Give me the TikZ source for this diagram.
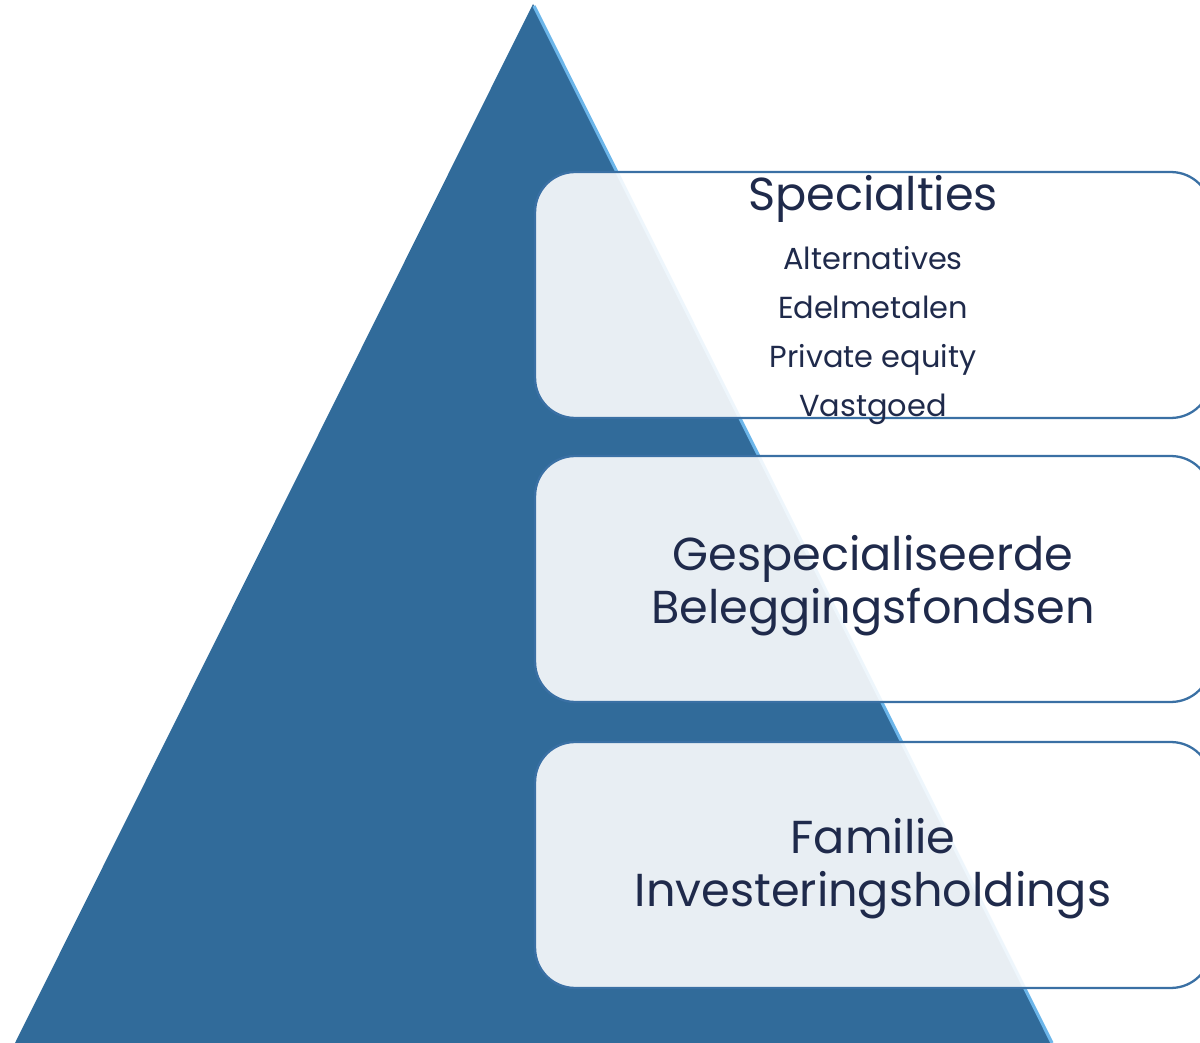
\documentclass[tikz,border=0pt]{standalone}
\usepackage{fontspec}
\setmainfont{Poppins}
\usetikzlibrary{positioning, calc}
\definecolor{pyrblue}{HTML}{316B9A}
\definecolor{pyredge}{HTML}{6CB6EA}
\definecolor{boxline}{HTML}{3A70A4}
\definecolor{labelink}{HTML}{1F2A4B}

\begin{document}
\begin{tikzpicture}[
    x=0.02cm, y=-0.02cm,
    tier/.style={draw=boxline, line width=1.3pt, rounded corners=0.8cm,
                 fill=white, fill opacity=0.89, draw opacity=1,
                 minimum width=13.52cm, minimum height=4.92cm, inner sep=0pt},
    heading/.style={font=\fontsize{26.3}{30}\selectfont, text=labelink, align=center, inner sep=0pt},
    entry/.style={font=\fontsize{17.3}{20}\selectfont, text=labelink, inner sep=0pt, anchor=base},
  ]
  \useasboundingbox (0,0) rectangle (1200,1043);
  \clip (0,0) rectangle (1200,1043);

  % Pyramid
  \coordinate (apex) at (533,4);
  \coordinate (baseL) at (15,1043);
  \coordinate (baseR) at (1051,1043);
  \fill[pyrblue] (apex) -- (baseR) -- (baseL) -- cycle;
  \draw[pyredge, line width=1.8pt] ($(apex)+(1,2)$) -- ($(baseR)+(1,0)$);

  % Tiers
  \node[tier] (spec) at (873,295) {};
  \node[tier] (fonds) at (873,579) {};
  \node[tier] (fam) at (873,865) {};

  % Labels
  \node[heading, anchor=base] (spectitle) at (873,211) {Specialties};
  \foreach \txt [count=\i] in {Alternatives, Edelmetalen, Private equity, Vastgoed}
    \node[entry] (item\i) at (873,{221+49*\i}) {\txt};

  \node[heading] (fondstitle) at ($(fonds.center)+(0,7)$) {Gespecialiseerde\\Beleggingsfondsen};
  \node[heading] (famtitle) at ($(fam.center)+(0,4)$) {Familie\\Investeringsholdings};

\end{tikzpicture}
\end{document}
